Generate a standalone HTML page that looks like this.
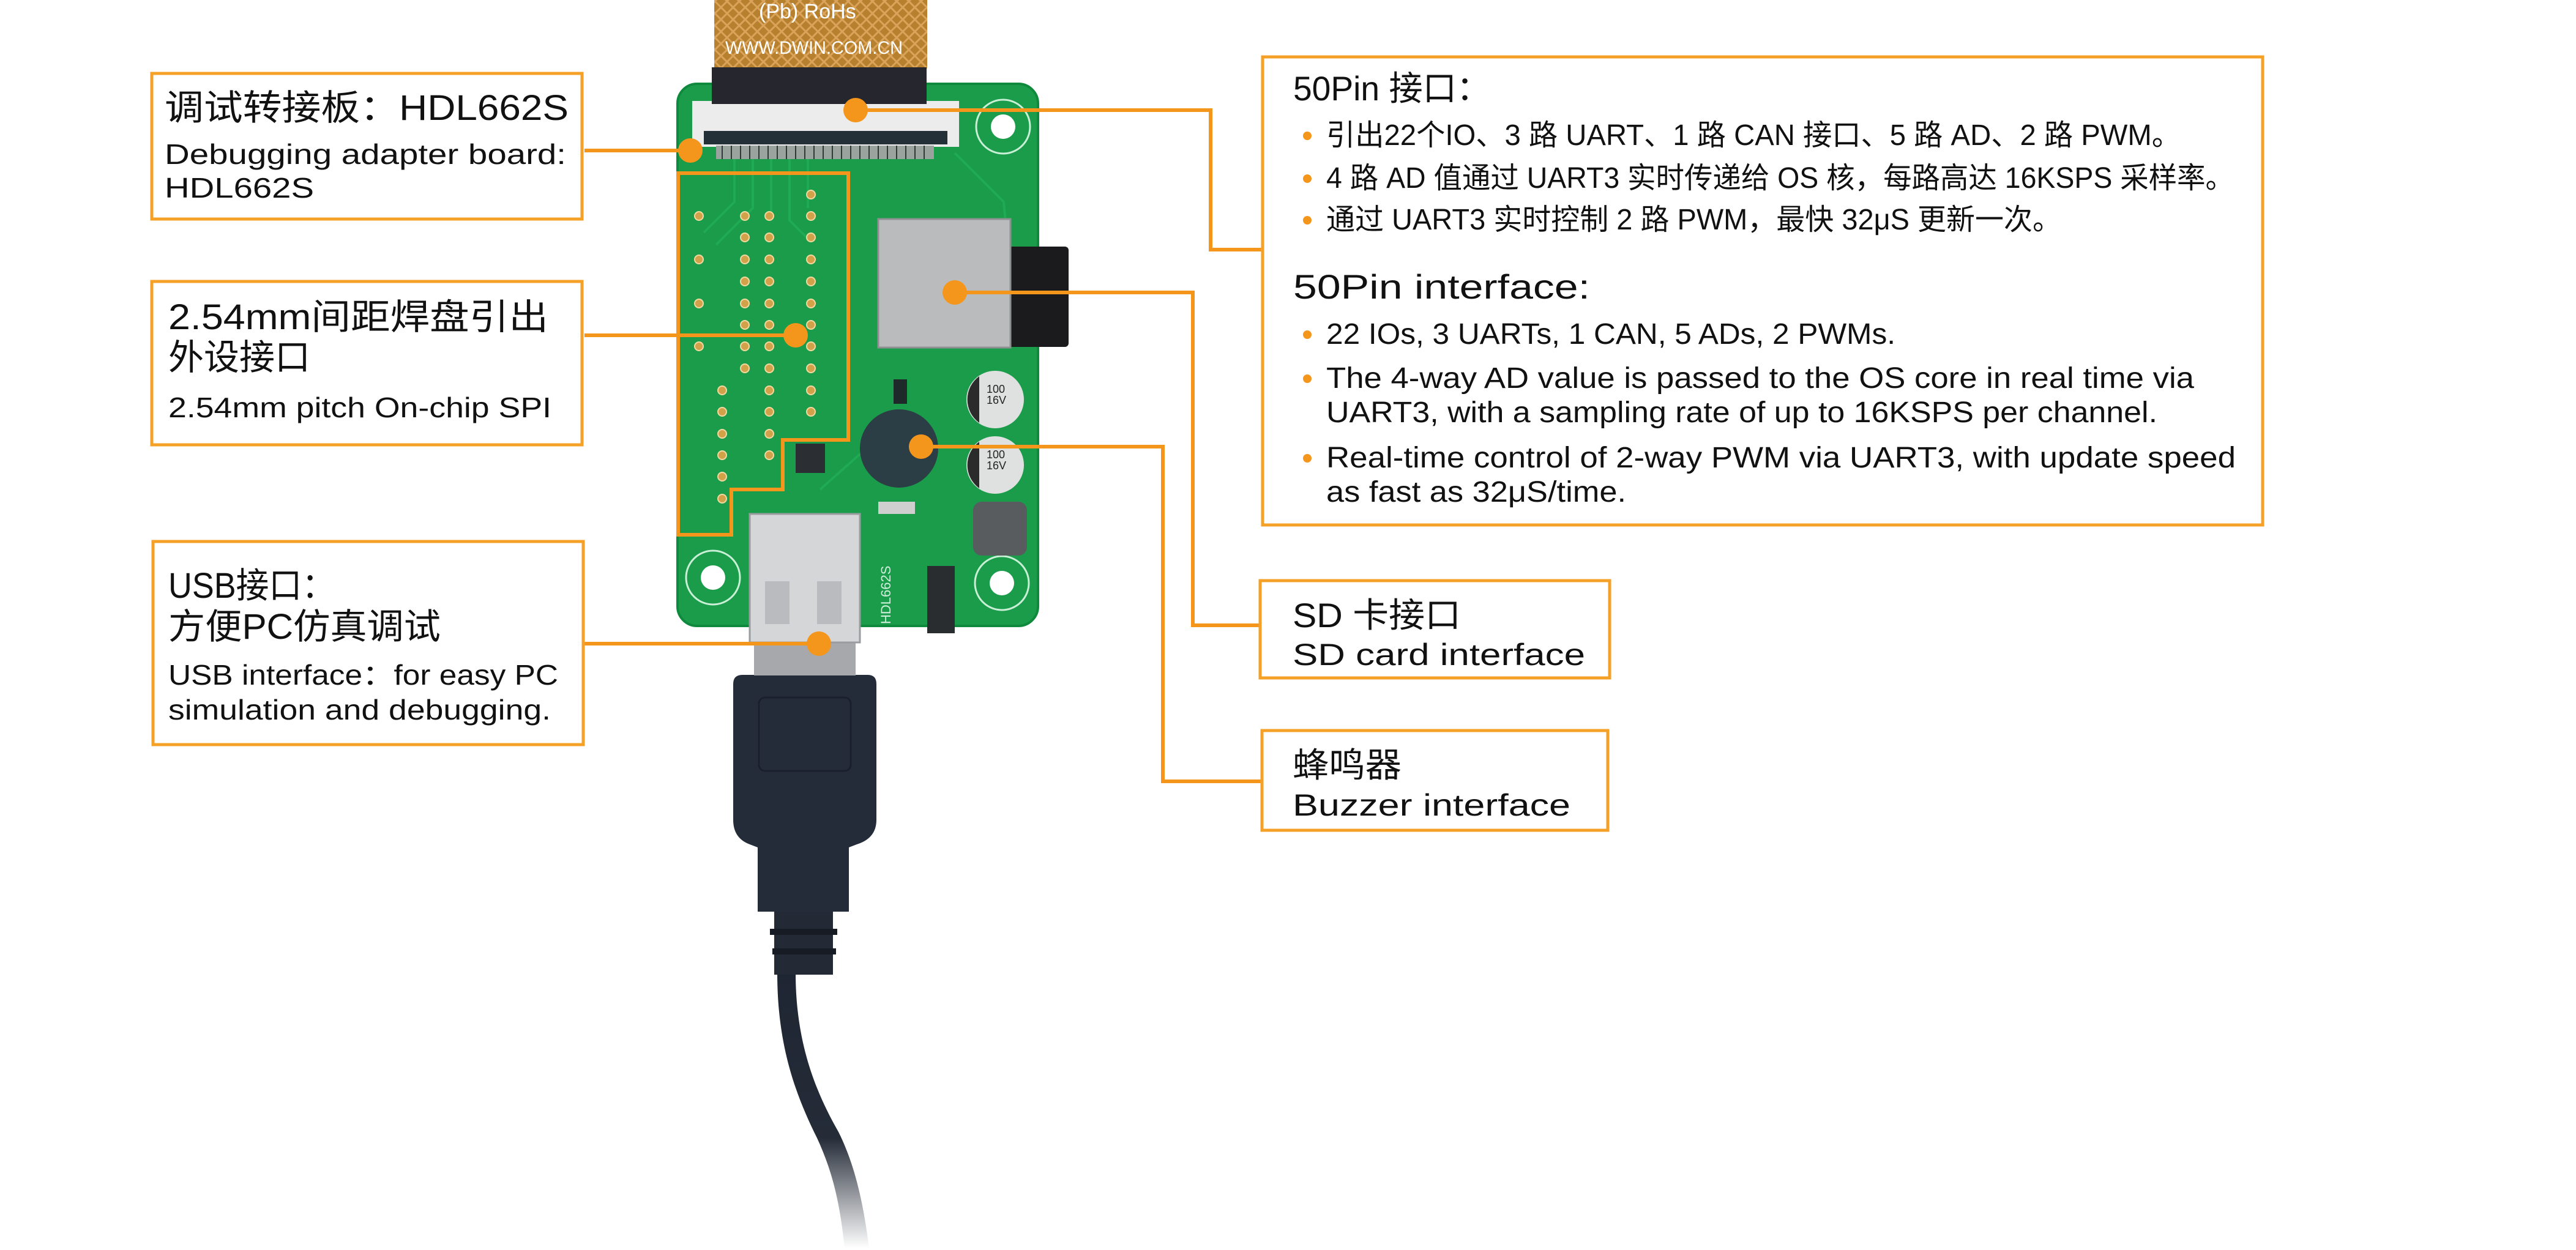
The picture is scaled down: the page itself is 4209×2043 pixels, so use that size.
<!DOCTYPE html>
<html><head><meta charset="utf-8"><style>
html,body{margin:0;padding:0;background:#fff}
svg{display:block}
text{font-family:"Liberation Sans","Noto Sans CJK SC",sans-serif;fill:#111}
</style></head><body>
<svg width="4209" height="2043" viewBox="0 0 4209 2043" xmlns="http://www.w3.org/2000/svg">
<defs>
<linearGradient id="cab" x1="0" y1="0" x2="0" y2="1">
<stop offset="0" stop-color="#1f2633"/><stop offset="0.6" stop-color="#252c38"/><stop offset="1" stop-color="#ffffff"/>
</linearGradient>
<pattern id="flexp" width="14" height="14" patternUnits="userSpaceOnUse" patternTransform="rotate(45)">
<rect width="14" height="14" fill="#b7802f"/><rect width="14" height="3" fill="#d9a45a"/><rect width="3" height="14" fill="#d9a45a"/>
</pattern>
</defs>

<rect x="1167" y="0" width="348" height="112" fill="url(#flexp)"/>
<text x="1240" y="30" font-size="34" style="fill:#fff">(Pb) RoHs</text>
<text x="1185" y="88" font-size="30" style="fill:#fff" textLength="290" lengthAdjust="spacingAndGlyphs">WWW.DWIN.COM.CN</text>
<rect x="1163" y="110" width="351" height="60" fill="#26262e"/>

<path d="M1300 1590 C1300 1700 1330 1780 1370 1850 C1395 1900 1410 1960 1420 2040 L1380 2040 C1372 1960 1358 1910 1335 1860 C1295 1780 1270 1700 1270 1590 Z" fill="url(#cab)"/>
<rect x="1265" y="1488" width="96" height="105" fill="#232a36"/>
<rect x="1258" y="1518" width="110" height="10" fill="#161b24"/>
<rect x="1262" y="1550" width="104" height="10" fill="#161b24"/>
<path d="M1198 1118 Q1198 1103 1213 1103 L1418 1103 Q1432 1103 1432 1118 L1432 1340 Q1432 1370 1400 1380 L1387 1385 L1387 1490 L1238 1490 L1238 1385 L1225 1380 Q1198 1370 1198 1340 Z" fill="#252c39"/>
<rect x="1240" y="1140" width="150" height="120" rx="10" fill="none" stroke="#1a202b" stroke-width="3"/>
<rect x="1232" y="1046" width="166" height="58" fill="#a6a8ab"/>

<rect x="1107" y="137" width="589" height="886" rx="32" fill="#1a9c4a"/>
<rect x="1107" y="137" width="589" height="886" rx="32" fill="none" stroke="#0f8a3c" stroke-width="4"/>
<g stroke="#22b057" stroke-width="4" fill="none" opacity="0.7">
<path d="M1200 260 L1200 330 L1150 380"/><path d="M1230 260 L1230 340 L1170 400"/><path d="M1260 260 L1260 350"/><path d="M1290 260 L1290 360 L1320 390"/><path d="M1320 260 L1320 340"/><path d="M1560 250 L1640 330 L1660 560"/><path d="M1430 720 L1340 800"/>
</g>
<rect x="1131" y="165" width="436" height="75" fill="#ececec"/>
<rect x="1150" y="214" width="398" height="22" fill="#233038"/>
<rect x="1170" y="238" width="356" height="22" fill="#9aa39d"/>
<g stroke="#2e3a36" stroke-width="2">
<path d="M1180 238v22M1195 238v22M1210 238v22M1225 238v22M1240 238v22M1255 238v22M1270 238v22M1285 238v22M1300 238v22M1315 238v22M1330 238v22M1345 238v22M1360 238v22M1375 238v22M1390 238v22M1405 238v22M1420 238v22M1435 238v22M1450 238v22M1465 238v22M1480 238v22M1495 238v22M1510 238v22"/>
</g>
<rect x="1163" y="130" width="351" height="40" fill="#26262e"/>
<g fill="none" stroke="#c9f0d6" stroke-width="3">
<circle cx="1639" cy="207" r="44"/><circle cx="1637" cy="953" r="44"/><circle cx="1165" cy="944" r="44"/>
</g>
<circle cx="1639" cy="207" r="20" fill="#fff"/><circle cx="1637" cy="953" r="20" fill="#fff"/><circle cx="1165" cy="944" r="20" fill="#fff"/>
<g fill="#d2a24a" stroke="#f0d9a0" stroke-width="2">
<circle cx="1325" cy="318" r="7"/>
<circle cx="1142" cy="353" r="7"/><circle cx="1217" cy="353" r="7"/><circle cx="1257" cy="353" r="7"/><circle cx="1325" cy="353" r="7"/>
<circle cx="1217" cy="388" r="7"/><circle cx="1257" cy="388" r="7"/><circle cx="1325" cy="388" r="7"/>
<circle cx="1142" cy="424" r="7"/><circle cx="1217" cy="424" r="7"/><circle cx="1257" cy="424" r="7"/><circle cx="1325" cy="424" r="7"/>
<circle cx="1217" cy="460" r="7"/><circle cx="1257" cy="460" r="7"/><circle cx="1325" cy="460" r="7"/>
<circle cx="1142" cy="496" r="7"/><circle cx="1217" cy="496" r="7"/><circle cx="1257" cy="496" r="7"/><circle cx="1325" cy="496" r="7"/>
<circle cx="1217" cy="531" r="7"/><circle cx="1257" cy="531" r="7"/><circle cx="1325" cy="531" r="7"/>
<circle cx="1142" cy="566" r="7"/><circle cx="1217" cy="566" r="7"/><circle cx="1257" cy="566" r="7"/><circle cx="1325" cy="566" r="7"/>
<circle cx="1217" cy="602" r="7"/><circle cx="1257" cy="602" r="7"/><circle cx="1325" cy="602" r="7"/>
<circle cx="1180" cy="638" r="7"/><circle cx="1257" cy="638" r="7"/><circle cx="1325" cy="638" r="7"/>
<circle cx="1180" cy="673" r="7"/><circle cx="1257" cy="673" r="7"/><circle cx="1325" cy="673" r="7"/>
<circle cx="1180" cy="709" r="7"/><circle cx="1257" cy="709" r="7"/>
<circle cx="1180" cy="744" r="7"/><circle cx="1257" cy="744" r="7"/>
<circle cx="1180" cy="779" r="7"/><circle cx="1180" cy="815" r="7"/>
</g>
<rect x="1300" y="725" width="48" height="48" fill="#2b2f33"/>
<rect x="1643" y="403" width="103" height="164" rx="6" fill="#1b1b1d"/>
<rect x="1435" y="358" width="216" height="210" fill="#b9bbbd"/>
<rect x="1435" y="358" width="216" height="210" fill="none" stroke="#8e9092" stroke-width="3"/>
<rect x="1460" y="620" width="22" height="40" fill="#1e2a2a"/>
<circle cx="1469" cy="733" r="64" fill="#2c3e45"/>
<circle cx="1626" cy="653" r="47" fill="#dfe1e0"/><path d="M1600 615 A47 47 0 0 0 1600 691 Z" fill="#2b2b2b"/>
<circle cx="1626" cy="760" r="47" fill="#dfe1e0"/><path d="M1600 722 A47 47 0 0 0 1600 798 Z" fill="#2b2b2b"/>
<text x="1612" y="642" font-size="18" style="fill:#222">100</text><text x="1612" y="660" font-size="18" style="fill:#222">16V</text>
<text x="1612" y="749" font-size="18" style="fill:#222">100</text><text x="1612" y="767" font-size="18" style="fill:#222">16V</text>
<rect x="1590" y="820" width="88" height="88" rx="14" fill="#585c5e"/>
<rect x="1515" y="925" width="45" height="110" fill="#2a2d2f"/>
<rect x="1435" y="820" width="60" height="20" fill="#cfcfcf"/>
<text transform="translate(1455 1020) rotate(-90)" font-size="22" style="fill:#cdeed8">HDL662S</text>
<rect x="1225" y="840" width="180" height="210" fill="#d4d6d8"/>
<rect x="1225" y="840" width="180" height="210" fill="none" stroke="#9a9ca0" stroke-width="3"/>
<rect x="1250" y="950" width="40" height="70" fill="#b9bbbe"/><rect x="1335" y="950" width="40" height="70" fill="#b9bbbe"/>

<path d="M1108 283 L1386 283 L1386 719 L1279 719 L1279 800 L1195 800 L1195 874 L1108 874 Z" fill="none" stroke="#f5961c" stroke-width="6"/>

<g stroke="#f5961c" stroke-width="6" fill="none">
<path d="M955 246 L1128 246"/>
<path d="M1398 180 L1978 180 L1978 408 L2062 408"/>
<path d="M955 548 L1300 548"/>
<path d="M1560 478 L1949 478 L1949 1022 L2059 1022"/>
<path d="M1505 730 L1900 730 L1900 1277 L2062 1277"/>
<path d="M955 1052 L1338 1052"/>
</g>
<g fill="#f5961c">
<circle cx="1128" cy="246" r="20"/><circle cx="1398" cy="180" r="20"/><circle cx="1300" cy="548" r="20"/>
<circle cx="1560" cy="478" r="20"/><circle cx="1505" cy="730" r="20"/><circle cx="1338" cy="1052" r="20"/>
</g>

<g fill="#fff" stroke="#f5a128" stroke-width="5">
<rect x="248" y="120" width="703" height="238"/>
<rect x="248" y="460" width="703" height="267"/>
<rect x="250" y="885" width="703" height="332"/>
<rect x="2063" y="93" width="1634" height="765"/>
<rect x="2059" y="949" width="571" height="159"/>
<rect x="2062" y="1194" width="565" height="163"/>
</g>

<text x="269" y="196" font-size="58" textLength="660" lengthAdjust="spacingAndGlyphs">调试转接板：HDL662S</text>
<text x="269" y="268" font-size="46" textLength="656" lengthAdjust="spacingAndGlyphs">Debugging adapter board:</text>
<text x="269" y="323" font-size="46" textLength="244" lengthAdjust="spacingAndGlyphs">HDL662S</text>
<text x="275" y="538" font-size="58" textLength="621" lengthAdjust="spacingAndGlyphs">2.54mm间距焊盘引出</text>
<text x="275" y="604" font-size="58" textLength="232" lengthAdjust="spacingAndGlyphs">外设接口</text>
<text x="275" y="682" font-size="46" textLength="626" lengthAdjust="spacingAndGlyphs">2.54mm pitch On-chip SPI</text>
<text x="275" y="977" font-size="58" textLength="272" lengthAdjust="spacingAndGlyphs">USB接口：</text>
<text x="275" y="1044" font-size="58" textLength="445" lengthAdjust="spacingAndGlyphs">方便PC仿真调试</text>
<text x="275" y="1119" font-size="46" textLength="637" lengthAdjust="spacingAndGlyphs">USB interface：for easy PC</text>
<text x="275" y="1176" font-size="46" textLength="625" lengthAdjust="spacingAndGlyphs">simulation and debugging.</text>

<text x="2113" y="164" font-size="56" textLength="322" lengthAdjust="spacingAndGlyphs">50Pin 接口：</text>
<g fill="#f5961c"><circle cx="2136" cy="222" r="7"/><circle cx="2136" cy="292" r="7"/><circle cx="2136" cy="360" r="7"/>
<circle cx="2136" cy="547" r="7"/><circle cx="2136" cy="619" r="7"/><circle cx="2136" cy="749" r="7"/></g>
<text x="2167" y="237" font-size="48" textLength="1396" lengthAdjust="spacingAndGlyphs">引出22个IO、3 路 UART、1 路 CAN 接口、5 路 AD、2 路 PWM。</text>
<text x="2167" y="307" font-size="48" textLength="1483" lengthAdjust="spacingAndGlyphs">4 路 AD 值通过 UART3 实时传递给 OS 核，每路高达 16KSPS 采样率。</text>
<text x="2167" y="375" font-size="48" textLength="1201" lengthAdjust="spacingAndGlyphs">通过 UART3 实时控制 2 路 PWM，最快 32μS 更新一次。</text>
<text x="2113" y="488" font-size="56" textLength="485" lengthAdjust="spacingAndGlyphs">50Pin interface:</text>
<text x="2167" y="562" font-size="48" textLength="930" lengthAdjust="spacingAndGlyphs">22 IOs, 3 UARTs, 1 CAN, 5 ADs, 2 PWMs.</text>
<text x="2167" y="634" font-size="48" textLength="1418" lengthAdjust="spacingAndGlyphs">The 4-way AD value is passed to the OS core in real time via</text>
<text x="2167" y="690" font-size="48" textLength="1358" lengthAdjust="spacingAndGlyphs">UART3, with a sampling rate of up to 16KSPS per channel.</text>
<text x="2167" y="764" font-size="48" textLength="1486" lengthAdjust="spacingAndGlyphs">Real-time control of 2-way PWM via UART3, with update speed</text>
<text x="2167" y="820" font-size="48" textLength="490" lengthAdjust="spacingAndGlyphs">as fast as 32μS/time.</text>

<text x="2112" y="1025" font-size="56" textLength="275" lengthAdjust="spacingAndGlyphs">SD 卡接口</text>
<text x="2112" y="1087" font-size="50" textLength="478" lengthAdjust="spacingAndGlyphs">SD card interface</text>
<text x="2112" y="1270" font-size="56" textLength="178" lengthAdjust="spacingAndGlyphs">蜂鸣器</text>
<text x="2112" y="1333" font-size="50" textLength="454" lengthAdjust="spacingAndGlyphs">Buzzer interface</text>
</svg>
</body></html>
